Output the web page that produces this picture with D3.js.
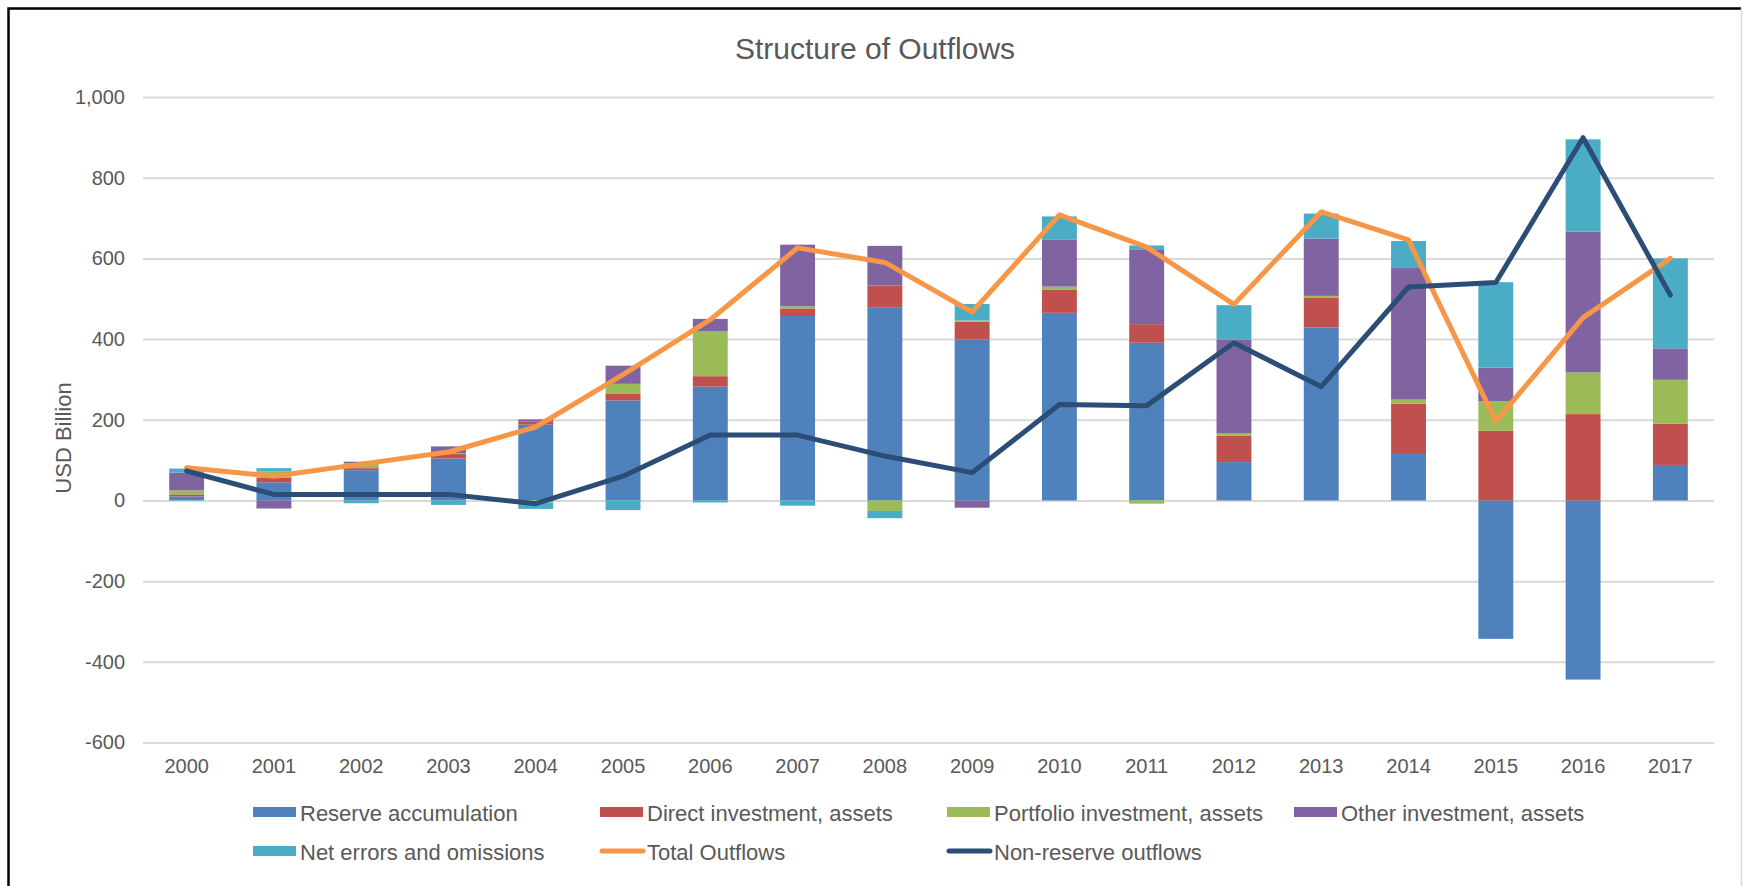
<!DOCTYPE html>
<html>
<head>
<meta charset="utf-8">
<title>Structure of Outflows</title>
<script src="https://cdn.jsdelivr.net/npm/d3@7"></script>
<style>
body { margin: 0; background: #fff; }
text { font-family: "Liberation Sans", Arial, Helvetica, sans-serif; fill: #595959; }
</style>
</head>
<body>
<div id="chart-area"></div>
<script>
/*
*    Structure of Outflows
*/
var years = ["2000", "2001", "2002", "2003", "2004", "2005", "2006", "2007", "2008",
	"2009", "2010", "2011", "2012", "2013", "2014", "2015", "2016", "2017"];

// stacked bar series (USD billion)
var reserve   = [10, 45, 75, 104, 188, 248, 282, 457, 479, 399, 465, 391, 95, 429, 115, -343, -444, 88];
var direct    = [5, 11, 5, 11, 8, 16, 26, 19, 54, 44, 58, 46, 66, 73, 125, 173, 214, 102];
var portfolio = [10, 16, 12, 2, -5, 25, 111, 5, -26, 3, 7, -8, 5, 5, 10, 73, 103, 109];
var other     = [44, -20, 4, 17, 5, 45, 31, 153, 98, -18, 117, 184, 232, 142, 326, 83, 349, 78];
var errors    = [10, 8, -7, -11, -16, -24, -5, -13, -18, 41, 57, 11, 86, 62, 67, 212, 229, 223];

// line series
var totalOutflows = [81, 60, 90, 120, 182, 312, 448, 626, 590, 467, 708, 628, 486, 715, 646, 196, 453, 600];
var nonReserve    = [73, 15, 15, 15, -8, 60, 162, 162, 110, 69, 238, 235, 391, 282, 529, 540, 899, 509];

var yTicks = [-600, -400, -200, 0, 200, 400, 600, 800, 1000];

var barNames = ["Reserve accumulation", "Direct investment, assets", "Portfolio investment, assets",
	"Other investment, assets", "Net errors and omissions"];
var lineNames = ["Total Outflows", "Non-reserve outflows"];
var barColors = ["#4F81BD", "#C0504D", "#9BBB59", "#8064A2", "#4BACC6"];
var lineColors = ["#F79646", "#2C4D75"];

var margin = {top: 97, right: 29, bottom: 143.5, left: 143};
var W = 1743, H = 886;
var width = W - margin.left - margin.right;
var height = H - margin.top - margin.bottom;

var svg = d3.select("#chart-area")
	.append("svg")
	.attr("width", W)
	.attr("height", H);

// chart frame
svg.append("path")
	.attr("d", "M8.5," + H + " V8.5 H1741")
	.attr("fill", "none")
	.attr("stroke", "#000")
	.attr("stroke-width", 2.5);
svg.append("line")
	.attr("x1", 1741.5).attr("x2", 1741.5)
	.attr("y1", 8).attr("y2", H)
	.attr("stroke", "#D9D9D9")
	.attr("stroke-width", 1.5);

svg.append("text")
	.attr("x", 875)
	.attr("y", 59)
	.attr("font-size", "30px")
	.attr("text-anchor", "middle")
	.text("Structure of Outflows");

var g = svg.append("g")
	.attr("transform", "translate(" + margin.left + ", " + margin.top + ")");

// Scales
var x = d3.scaleBand()
	.domain(years)
	.range([0, width])
	.paddingInner(0.6)
	.paddingOuter(0.3);

var y = d3.scaleLinear()
	.domain([-600, 1000])
	.range([height, 0]);

var fmt = d3.format(",");
var leftAxis = d3.axisLeft(y)
	.tickValues(yTicks)
	.tickSizeInner(-width)
	.tickSizeOuter(0)
	.tickPadding(18)
	.tickFormat((d) => { return d < 0 ? "-" + fmt(-d) : fmt(d); });

var yAxisG = g.append("g")
	.attr("class", "y axis")
	.call(leftAxis);
yAxisG.select(".domain").remove();
yAxisG.selectAll("line")
	.attr("stroke", "#D9D9D9")
	.attr("stroke-width", 2);
yAxisG.selectAll("text")
	.attr("font-size", "20px")
	.attr("fill", "#595959");

var bottomAxis = d3.axisBottom(x).tickSize(0).tickPadding(16);
var xAxisG = g.append("g")
	.attr("class", "x axis")
	.attr("transform", "translate(0, " + height + ")")
	.call(bottomAxis);
xAxisG.select(".domain").remove();
xAxisG.selectAll("text")
	.attr("font-size", "20px")
	.attr("fill", "#595959");

// axis title
svg.append("text")
	.attr("transform", "translate(71, 438) rotate(-90)")
	.attr("font-size", "22px")
	.attr("text-anchor", "middle")
	.text("USD Billion");

// stacked bars
var rows = years.map((yr, i) => {
	return {year: yr, s0: reserve[i], s1: direct[i], s2: portfolio[i], s3: other[i], s4: errors[i]};
});
var keys = ["s0", "s1", "s2", "s3", "s4"];
var series = d3.stack().keys(keys).offset(d3.stackOffsetDiverging)(rows);

g.selectAll(".series").data(series)
	.enter()
	.append("g")
	.attr("class", "series")
	.attr("fill", (d, i) => { return barColors[i]; })
	.selectAll("rect")
	.data((d) => { return d; })
	.enter()
	.append("rect")
	.attr("x", (d) => { return x(d.data.year); })
	.attr("y", (d) => { return y(Math.max(d[0], d[1])); })
	.attr("height", (d) => { return Math.abs(y(d[0]) - y(d[1])); })
	.attr("width", x.bandwidth());

// lines
var line = d3.line()
	.x((d, i) => { return x(years[i]) + x.bandwidth() / 2; })
	.y((d) => { return y(d); });

[totalOutflows, nonReserve].forEach((vals, i) => {
	g.append("path")
		.datum(vals)
		.attr("d", line)
		.attr("fill", "none")
		.attr("stroke", lineColors[i])
		.attr("stroke-width", 5)
		.attr("stroke-linejoin", "round")
		.attr("stroke-linecap", "round");
});

// legend
var legendItems = barNames.map((n, i) => { return {name: n, color: barColors[i], type: "bar"}; })
	.concat(lineNames.map((n, i) => { return {name: n, color: lineColors[i], type: "line"}; }));

var legend = svg.append("g").attr("class", "legend");
legendItems.forEach((d, i) => {
	var col = i < 4 ? i : i - 4;
	var row = i < 4 ? 0 : 1;
	var lx = 253 + col * 347;
	var ly = row === 0 ? 812 : 851;
	var item = legend.append("g").attr("transform", "translate(" + lx + ", " + ly + ")");
	if (d.type === "bar") {
		item.append("rect")
			.attr("x", 0).attr("y", -5)
			.attr("width", 43).attr("height", 10)
			.attr("fill", d.color);
	} else {
		item.append("line")
			.attr("x1", 2).attr("x2", 43)
			.attr("y1", 0).attr("y2", 0)
			.attr("stroke", d.color)
			.attr("stroke-width", 5)
			.attr("stroke-linecap", "round");
	}
	item.append("text")
		.attr("x", 47)
		.attr("y", 8.5)
		.attr("font-size", "22px")
		.text(d.name);
});
</script>
</body>
</html>
